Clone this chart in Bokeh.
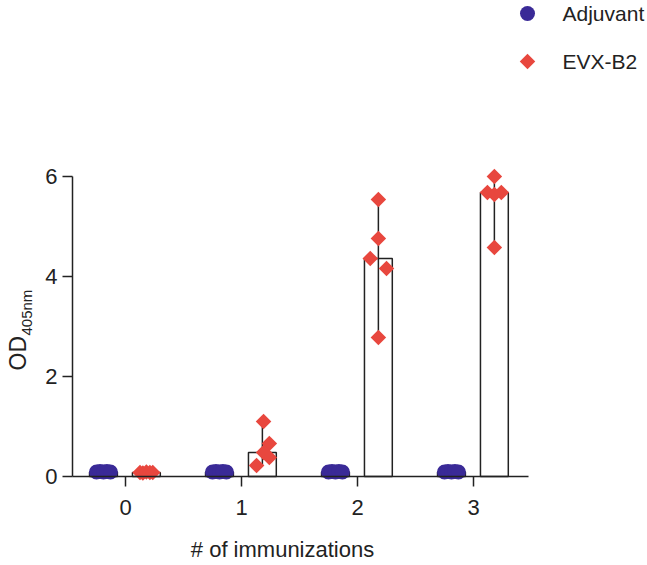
import numpy as np
from bokeh.plotting import figure
from bokeh.models import ColumnDataSource, FixedTicker, Label, Range1d
from bokeh.embed import file_html
from bokeh.resources import INLINE

# ---- data ----
groups = [0, 1, 2, 3]
tick_labels = ["0", "1", "2", "3"]
y_ticks = [0, 2, 4, 6]
series_names = ["Adjuvant", "EVX-B2"]
adjuvant = [
    [0.09, 0.10, 0.09, 0.10, 0.09],
    [0.09, 0.10, 0.09, 0.10, 0.09],
    [0.09, 0.10, 0.09, 0.10, 0.09],
    [0.09, 0.10, 0.09, 0.10, 0.09],
]
evx_b2 = [
    [0.08, 0.07, 0.09, 0.08, 0.08],
    [1.10, 0.66, 0.48, 0.38, 0.22],
    [5.54, 4.76, 4.36, 4.16, 2.78],
    [6.00, 5.68, 5.64, 5.68, 4.58],
]

# ---- layout constants (pixels) ----
W, H = 647, 565
AX_X, AX_Y = 72, 476          # pixel position of the y axis / x axis
PX_X, PX_Y = 116, 50          # pixels per data unit
X0_PX = 125                   # pixel position of x = 0
ADJ_OFF, EVX_OFF = -0.19, 0.18
BAR_W = 0.24
adj_jit = [-0.06, -0.03, 0.0, 0.03, 0.06]
evx_jit = [
    [-0.055, -0.03, 0.0, 0.03, 0.055],
    [0.01, 0.06, 0.01, 0.06, -0.05],
    [0.0, 0.0, -0.07, 0.07, 0.0],
    [0.0, -0.06, 0.0, 0.06, 0.0],
]
LEG_KEY_X, LEG_TEXT_X = 527, 562
LEG_Y = [13, 61]
ADJ_COLOR = "#3a2a97"
EVX_COLOR = "#e8473e"
INK = "#222222"
FONT = "Liberation Sans"

x_start = -X0_PX / PX_X
y_start = -(H - AX_Y) / PX_Y
x_axis_left = (AX_X - X0_PX) / PX_X

def px_to_x(px):
    return x_start + px / PX_X

def py_to_y(py):
    return y_start + (H - py) / PX_Y

def bar_source(vals, off):
    xs = [g + off for g in groups]
    med = [float(np.median(v)) for v in vals]
    lo = [float(np.min(v)) for v in vals]
    hi = [float(np.max(v)) for v in vals]
    return ColumnDataSource(dict(x=xs, top=med, lo=lo, hi=hi))

def point_source(vals, off, jit):
    xs, ys = [], []
    for g, v in zip(groups, vals):
        for k, y in enumerate(v):
            j = jit[g][k] if isinstance(jit[0], list) else jit[k]
            xs.append(g + off + j)
            ys.append(y)
    return ColumnDataSource(dict(x=xs, y=ys))

p = figure(
    width=W, height=H, min_border=0,
    x_range=Range1d(x_start, x_start + W / PX_X),
    y_range=Range1d(y_start, y_start + H / PX_Y),
    output_backend="svg", toolbar_location=None,
)
p.outline_line_color = None
p.xgrid.visible = False
p.ygrid.visible = False
p.background_fill_color = "white"
p.border_fill_color = "white"

for vals, off in ((adjuvant, ADJ_OFF), (evx_b2, EVX_OFF)):
    bs = bar_source(vals, off)
    p.vbar(x="x", top="top", bottom=0, width=BAR_W, source=bs,
           fill_color="white", line_color=INK, line_width=1.5)
    p.segment(x0="x", y0="lo", x1="x", y1="hi", source=bs,
              line_color=INK, line_width=1.5)

circle_style = dict(marker="circle", size=15, fill_color=ADJ_COLOR, line_color=None)
diamond_style = dict(marker="square", angle=np.pi / 4, size=11, fill_color=EVX_COLOR, line_color=None)

p.scatter(x="x", y="y", source=point_source(adjuvant, ADJ_OFF, adj_jit), **circle_style)
p.scatter(x="x", y="y", source=point_source(evx_b2, EVX_OFF, evx_jit), **diamond_style)

# legend (outside the axes, top right)
for ly, name, style in zip(LEG_Y, series_names, (circle_style, diamond_style)):
    p.scatter(x=[px_to_x(LEG_KEY_X)], y=[py_to_y(ly)], **style)
    p.add_layout(Label(x=LEG_TEXT_X, y=H - ly, x_units="screen", y_units="screen",
                       text=name, text_font=FONT, text_font_size="21px",
                       text_color=INK, text_align="left", text_baseline="middle"))

# axes
for ax in (p.xaxis[0], p.yaxis[0]):
    ax.axis_line_color = INK
    ax.axis_line_width = 1.5
    ax.major_tick_line_color = INK
    ax.major_tick_line_width = 1.5
    ax.major_tick_in = 0
    ax.major_tick_out = 10
    ax.minor_tick_line_color = None
    ax.major_label_text_font = FONT
    ax.major_label_text_font_size = "22px"
    ax.major_label_text_color = INK

p.xaxis.ticker = FixedTicker(ticks=groups)
p.xaxis.major_label_overrides = {g: t for g, t in zip(groups, tick_labels)}
p.xaxis.bounds = (x_axis_left, 3.47)
p.xaxis.fixed_location = 0
p.xaxis.major_label_standoff = 13
p.yaxis.ticker = FixedTicker(ticks=y_ticks)
p.yaxis.bounds = (0, 6)
p.yaxis.fixed_location = x_axis_left
p.yaxis.major_label_standoff = 5

# axis titles
p.add_layout(Label(x=282, y=H - 549, x_units="screen", y_units="screen",
                   text="# of immunizations", text_font=FONT, text_font_size="22px",
                   text_color=INK, text_align="center", text_baseline="middle"))
p.add_layout(Label(x=17, y=H - 370, x_units="screen", y_units="screen", angle=np.pi / 2,
                   text="OD", text_font=FONT, text_font_size="23px",
                   text_color=INK, text_align="left", text_baseline="alphabetic"))
p.add_layout(Label(x=26, y=H - 335, x_units="screen", y_units="screen", angle=np.pi / 2,
                   text="405nm", text_font=FONT, text_font_size="15px",
                   text_color=INK, text_align="left", text_baseline="alphabetic"))

open("out.html", "w").write(file_html(p, INLINE))
